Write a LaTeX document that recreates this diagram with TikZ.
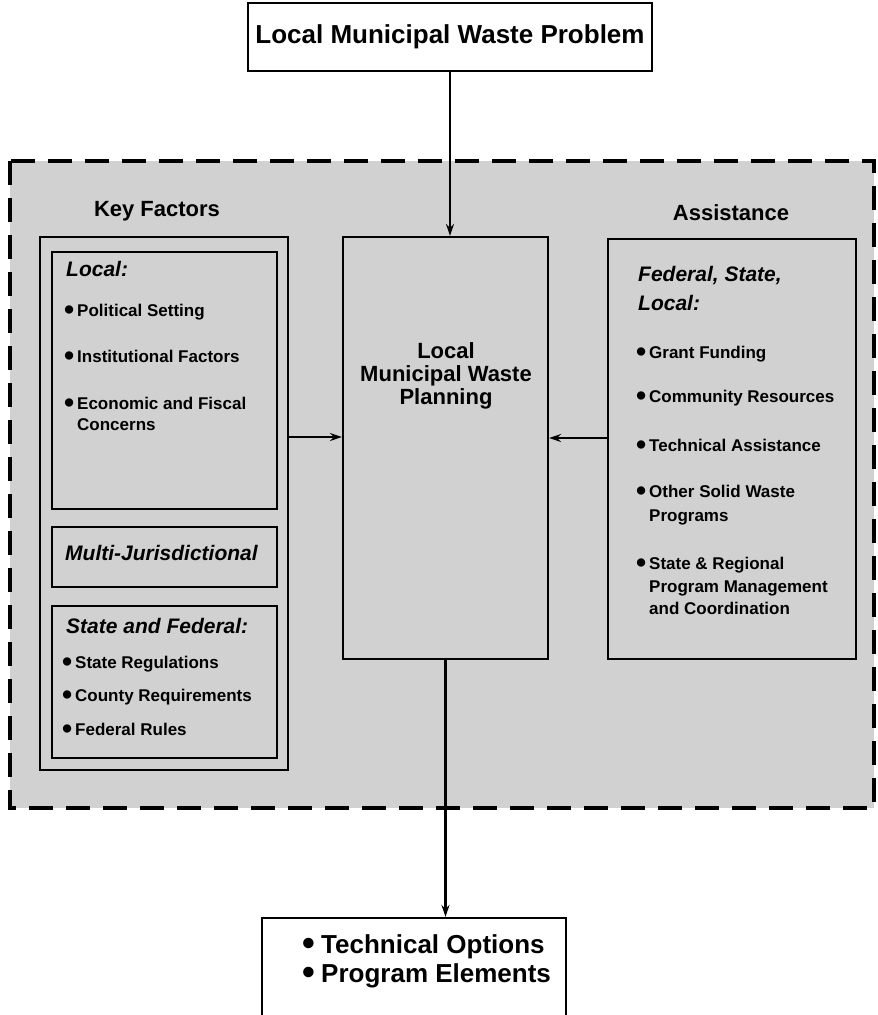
\documentclass[tikz,border=0pt]{standalone}
\usepackage{fontspec}
\setmainfont{Liberation Sans}
\usetikzlibrary{arrows.meta,positioning}

\newcommand\bul{\makebox[13pt][l]{\raisebox{-0.3ex}{\scalebox{1.7}{\textbullet}}}}
\newcommand\bigbul{\makebox[19pt][l]{\smash{\raisebox{-0.2ex}{\scalebox{1.4}{\textbullet}}}}}

\tikzset{
  box/.style={draw, line width=2.2pt, inner sep=0pt},
  shaded/.style={fill=black!18},
  item/.style={anchor=mid west, inner sep=0pt, font=\bfseries\fontsize{17}{21}\selectfont},
  head/.style={anchor=mid west, inner sep=0pt, font=\bfseries\itshape\fontsize{21}{26}\selectfont},
  title/.style={inner sep=0pt, font=\bfseries\fontsize{22}{26}\selectfont},
  flow/.style={line width=2.2pt, -{Stealth[length=12pt,width=8pt]}},
}

\begin{document}
\begin{tikzpicture}[x=1pt,y=-1pt]
        \useasboundingbox (0,0) rectangle (878,1015);
        \clip (0,0) rectangle (878,1015);

        % shaded planning area
        \draw[shaded, line width=3.2pt, dash pattern=on 24pt off 13pt] (10,161) rectangle (874,808);

        % boxes
        \node[box, fill=white, minimum width=404, minimum height=68] (problem) at (450,37) {};
        \node[box, shaded, minimum width=248, minimum height=533] (keys) at (164,503.5) {};
        \node[box, shaded, minimum width=225, minimum height=257] (local) at (164.5,380.5) {};
        \node[box, shaded, minimum width=225, minimum height=60] (multi) at (164.5,557) {};
        \node[box, shaded, minimum width=225, minimum height=152] (statefed) at (164.5,682) {};
        \node[box, shaded, minimum width=205, minimum height=422] (plan) at (445.5,448) {};
        \node[box, shaded, minimum width=248, minimum height=420] (assist) at (732,449) {};
        \node[box, fill=white, minimum width=304, minimum height=130] (result) at (414,983) {};

        % titles
        \node[title, font=\bfseries\fontsize{26}{30}\selectfont] (problemtext) at (450,37) {Local Municipal Waste Problem};
        \node[title] (keyhead) at (157,211) {Key Factors};
        \node[title] (assisthead) at (731,213) {Assistance};
        \node[title, align=center, font=\bfseries\fontsize{22}{23}\selectfont] (plantext) at (446,376) {Local\\Municipal Waste\\Planning};

        % key factors
        \node[head] (localhead) at (66,274) {Local:};
        \node[item] (political) at (64,314) {\bul Political Setting};
        \node[item] (institution) at (64,360) {\bul Institutional Factors};
        \node[item] (economic) at (64,407) {\bul Economic and Fiscal};
        \node[item] (concerns) at (77,428) {Concerns};
        \node[head] (multitext) at (65,558) {Multi-Jurisdictional};
        \node[head] (statehead) at (66,631) {State and Federal:};
        \node[item] (stateregs) at (62,666) {\bul State Regulations};
        \node[item] (county) at (62,699) {\bul County Requirements};
        \node[item] (fedrules) at (62,733) {\bul Federal Rules};

        % assistance
        \node[head] (fedhead) at (638,279) {Federal, State,};
        \node[head] (fedhead2) at (638,308) {Local:};
        \node[item] (grant) at (636,356) {\bul Grant Funding};
        \node[item] (community) at (636,400) {\bul Community Resources};
        \node[item] (technical) at (636,449) {\bul Technical Assistance};
        \node[item] (solid) at (636,495) {\bul Other Solid Waste};
        \node[item] (programs) at (649,519) {Programs};
        \node[item] (regional) at (636,567) {\bul State \& Regional};
        \node[item] (management) at (649,590) {Program Management};
        \node[item] (coordination) at (649,612) {and Coordination};

        % result
        \node[item, anchor=west, align=left, font=\bfseries\fontsize{26}{29}\selectfont] (outcome) at (302,961) {\bigbul Technical Options\\\bigbul Program Elements};

        % connectors
        \draw[flow] (problem.south) -- (problem.south |- plan.north);
        \draw[flow] (keys.east |- 0,437) -- (plan.west |- 0,437);
        \draw[flow] (assist.west |- 0,438) -- (plan.east |- 0,438);
        \draw[flow] (plan.south) -- (plan.south |- result.north);

\end{tikzpicture}
\end{document}
